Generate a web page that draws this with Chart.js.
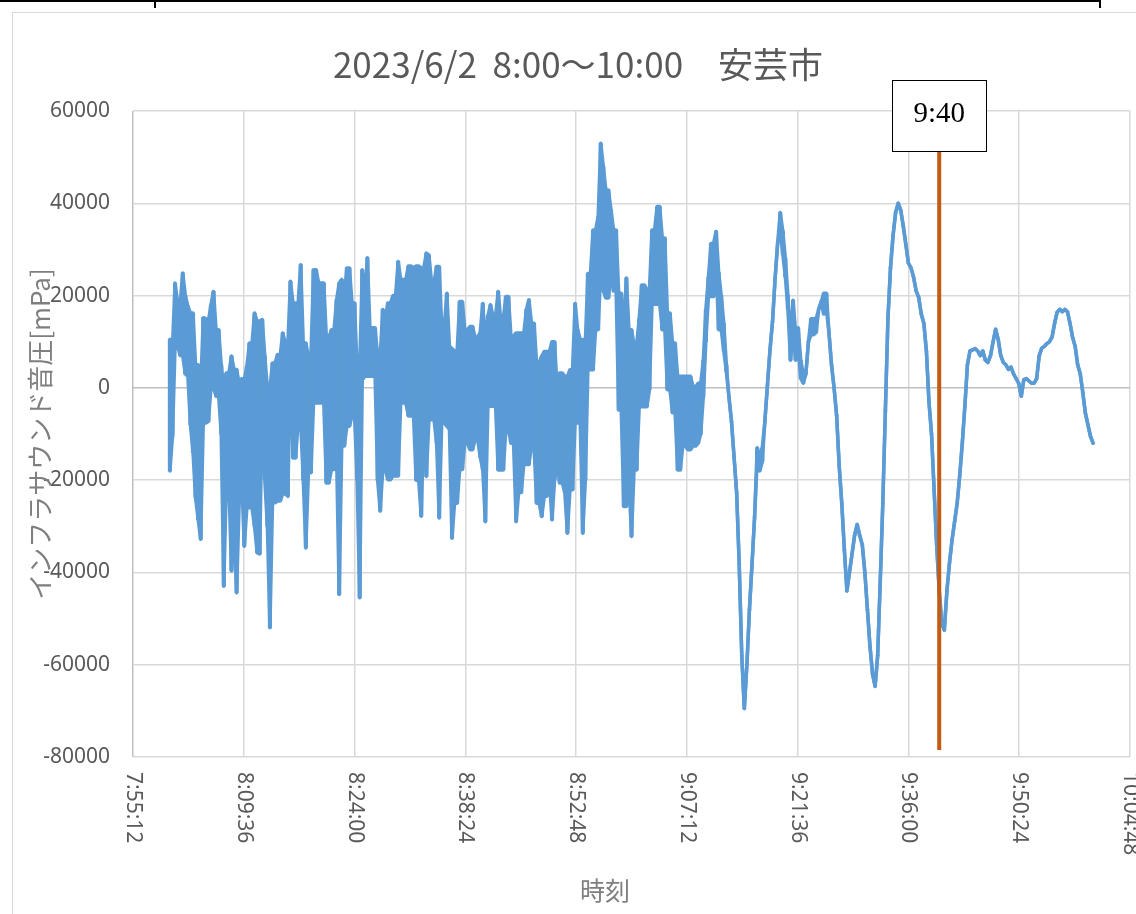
<!DOCTYPE html>
<html lang="ja">
<head>
<meta charset="utf-8">
<title>2023/6/2 8:00～10:00 安芸市</title>
<script src="https://cdn.jsdelivr.net/npm/chart.js@4.4.1/dist/chart.umd.min.js"></script>
<style>
  html, body { margin: 0; padding: 0; background: #ffffff; }
  #wrap { position: relative; width: 1136px; height: 914px; overflow: hidden; }
  canvas { display: block; }
</style>
</head>
<body>
<div id="wrap"><canvas id="chart" width="1136" height="914"></canvas></div>
<script>
// ---- chart texts ----
const chartTitle = '2023/6/2  8:00～10:00　安芸市';
const yAxisTitle = 'インフラサウンド音圧[mPa]';
const xAxisTitle = '時刻';

// ---- axis ticks ----
const xTickLabels = ['7:55:12', '8:09:36', '8:24:00', '8:38:24', '8:52:48',
                     '9:07:12', '9:21:36', '9:36:00', '9:50:24', '10:04:48'];
const yTickValues = [60000, 40000, 20000, 0, -20000, -40000, -60000, -80000];

// ---- marker ----
const markerLabel = '9:40';

// ---- recorded pressure [mPa], highest and lowest value in each 20 s slot from 8:00:00 ----
const sampleStart = '8:00:00';
const sampleStepSec = 20;
const pressureMax = [
  10500, 9000, 22700, 18400, 18400, 24900, 20000, 17700, 16200, 16200,
  5000, 5000, 0, 15200, 15000, 14500, 18000, 20900, 12600, 12600,
  5000, 0, 3200, 3200, 6900, 4000, 4000, 1000, 2000, 1800,
  4700, 9700, 9700, 16200, 14500, 14500, 14800, 6900, 0, 0,
  5400, 5400, 7200, 7000, 11900, 9700, 9700, 23100, 18400, 18400,
  18400, 26700, 9700, 9700, 6900, 6900, 25600, 25600, 22700, 22700,
  22700, 11000, 11000, 12600, 12600, 19100, 22700, 23500, 20000, 26000,
  26000, 18400, 18400, 4000, 4000, 25600, 20000, 28200, 13000, 13000,
  13000, 6900, 6900, 17000, 15000, 18400, 18400, 20000, 20000, 27400,
  23500, 23500, 23500, 26400, 26400, 26000, 26400, 26400, 26000, 26000,
  29200, 28800, 23000, 23000, 26300, 26300, 13300, 13300, 20500, 9000,
  8500, 8000, 8000, 18700, 18700, 12600, 12600, 13300, 13300, 11000,
  11000, 12000, 18300, 9700, 15600, 18000, 15600, 15600, 20900, 14800,
  14800, 19800, 19800, 11200, 11200, 11900, 11900, 11900, 11900, 17000,
  19100, 14000, 14000, 5400, 5400, 6900, 7900, 7900, 7900, 10000,
  10000, -400, 3200, 3200, 2500, 2500, 3900, 3900, 18300, 12600,
  10500, 10500, 10000, 24800, 24800, 34200, 34200, 37100, 53000, 48000,
  42900, 42900, 38600, 34200, 34200, 20500, 20500, 12600, 23800, 12600,
  12600, 9400, 9400, 15000, 22300, 22300, 21300, 21300, 34200, 34200,
  39300, 39300, 32500, 32500, 16200, 16200, 9700, 9700, 2500, 2500,
  2500, 2500, 2500, 2500, 300, 300, 1000, 1000, 6000, 17000,
  24000, 31300, 31300, 33900, 25000, 20000, 14000, 5000, -2000, -7300,
  -15000, -22700, -38200, -58000, -69500, -60000, -48000, -38200, -28000, -13000,
  -15000, -13000, -7300, 500, 8200, 14400, 23700, 31400, 38000, 34000,
  28000, 20000, 10000, 19000, 12000, 13000, 6000, 3000, 3000, 10000,
  15000, 15000, 15000, 17000, 18700, 20500, 20500, 12000, 5000, 0,
  -6000, -17000, -25000, -35000, -44000, -40000, -36000, -32000, -29600, -32000,
  -34000, -40000, -48000, -56000, -62000, -64700, -58000, -42000, -25000, -5000,
  15000, 26000, 33000, 38000, 40000, 38500, 35000, 31000, 27000, 26000,
  24000, 21000, 19600, 16000, 14000, 8000, -3000, -10000, -22000, -34000,
  -44000, -51000, -52500, -44000, -38000, -33000, -29000, -25000, -19000, -12000,
  -4000, 5000, 8000, 8200, 8500, 8000, 7000, 8000, 6000, 5500,
  7000, 10000, 12700, 10500, 7000, 5500, 5000, 4000, 4500, 3000,
  2000, 1000, -1800, 1800, 2000, 1500, 1000, 1000, 2000, 7000,
  8600, 9000, 9600, 10000, 11000, 14000, 16400, 17000, 16500, 17000,
  16500, 14000, 11000, 9000, 5000, 3000, -1000, -5500, -8000, -10500,
  -12000
];
const pressureMin = [
  -18000, -10500, 9000, 9000, 7000, 6900, 3000, 2500, -8000, -14000,
  -23800, -28500, -32800, -7600, -7600, -7300, 0, 0, -1800, -1800,
  -10000, -43000, -20600, -20600, -39700, -30000, -44400, -24900, -20000, -34300,
  -26000, -26000, -26000, -30000, -35700, -36000, -3500, -19900, -30000, -52000,
  -24900, -24900, -24500, -24500, -23000, -23000, -23500, 6900, -15200, -15200,
  -7600, -7600, -20000, -34700, -18400, -18400, -3300, -3300, -3300, -3300,
  -3300, -20600, -20600, -17700, -17700, -14800, -44800, -12600, -12600, -8300,
  -8300, -6100, -6100, -20000, -45500, 1800, 2500, 2500, 2500, 2500,
  2500, -20000, -26700, -17700, -17700, -19900, -19900, -19100, -19100, -19100,
  -3300, -3300, -3300, -6100, -6100, -6100, -20000, -20000, -27800, -7000,
  -19200, -6900, -6900, -6900, -12000, -28200, -7600, -7600, -8300, -9000,
  -32600, -25000, -25000, -17700, -17700, -11900, -11900, -13400, -13400, -11200,
  -11200, -15000, -17700, -29000, -4000, -4000, -4000, -4000, -17800, -17800,
  -17800, -9000, -9000, -12000, -12000, -29000, -22700, -22700, -16600, -16600,
  -16600, -12600, -12600, -25000, -25000, -27900, -23500, -23500, -20000, -28600,
  -20000, -16200, -20600, -20600, -22700, -31500, -22100, -22100, -7600, -7600,
  -7600, -31500, -20000, 3900, 3900, 3900, 12600, 12600, 25600, 21000,
  19500, 19500, 25600, 21000, 21000, -4800, -4800, -25700, -25700, -20000,
  -32200, -17800, -17800, -4100, -4100, -4100, -4100, -400, 18100, 18100,
  18100, 18100, 12600, 12600, -400, -400, -5400, -5400, -17800, -17800,
  -12600, -12600, -13400, -13400, -12600, -12600, -12000, -10000, -2000, 10000,
  19800, 19800, 19800, 25600, 12600, 12600, 8000, 3500, -2000, -7300,
  -15000, -22700, -38200, -58000, -69500, -60000, -48000, -38200, -28000, -16000,
  -18000, -16000, -7300, 500, 8200, 14400, 23700, 31400, 34000, 29000,
  24000, 17000, 6000, 12000, 6000, 9000, 2000, 1000, 3000, 10000,
  11500, 11500, 12000, 17000, 18700, 16000, 17000, 12000, 5000, 0,
  -6000, -17000, -25000, -35000, -44000, -40000, -36000, -32000, -29600, -32000,
  -34000, -40000, -48000, -56000, -62000, -64700, -58000, -42000, -25000, -5000,
  15000, 26000, 33000, 38000, 40000, 38500, 35000, 31000, 27000, 26000,
  24000, 21000, 19600, 16000, 14000, 8000, -3000, -10000, -22000, -34000,
  -44000, -51000, -52500, -44000, -38000, -33000, -29000, -25000, -19000, -12000,
  -4000, 5000, 8000, 8200, 8500, 8000, 7000, 8000, 6000, 5500,
  7000, 10000, 12700, 10500, 7000, 5500, 5000, 4000, 4500, 3000,
  2000, 1000, -1800, 1800, 2000, 1500, 1000, 1000, 2000, 7000,
  8600, 9000, 9600, 10000, 11000, 14000, 16400, 17000, 16500, 17000,
  16500, 14000, 11000, 9000, 5000, 3000, -1000, -5500, -8000, -10500,
  -12000
];

// "h:mm[:ss]" -> seconds of the day
function toSeconds(str) {
  const p = str.split(':').map(Number);
  return p[0] * 3600 + p[1] * 60 + (p[2] || 0);
}

const xTickSeconds = xTickLabels.map(toSeconds);
const startSec = toSeconds(sampleStart);
const slotTime = i => startSec + i * sampleStepSec;
const maxPoints = pressureMax.map((v, i) => ({ x: slotTime(i), y: v }));
const minPoints = pressureMin.map((v, i) => ({ x: slotTime(i), y: v }));
const rangePoints = pressureMax.map((v, i) => ({ x: slotTime(i), y: [pressureMin[i], v] }));
const markerSec = toSeconds(markerLabel);

const SERIES_COLOR = '#5b9bd5';
const LABEL_COLOR = '#595959';
const AXIS_TITLE_COLOR = '#7f7f7f';
const NUM_FONT = '21px "Noto Sans", "DejaVu Sans", sans-serif';
const JP_FONT = '"Noto Sans CJK JP", "Noto Sans", sans-serif';

// page frame, texts, rotated time labels and the 9:40 marker
const decorations = {
  id: 'decorations',
  beforeDraw(chart) {
    const c = chart.ctx;
    c.save();
    c.fillStyle = '#ffffff';
    c.fillRect(0, 0, chart.width, chart.height);
    // outer chart border
    c.strokeStyle = '#d9d9d9';
    c.lineWidth = 1;
    c.strokeRect(12.5, 12.5, chart.width + 20, chart.height + 20);
    // document rule along the top edge
    c.strokeStyle = '#000000';
    c.lineWidth = 2;
    c.beginPath();
    c.moveTo(0, 1); c.lineTo(1100, 1);
    c.moveTo(155, 0); c.lineTo(155, 8);
    c.moveTo(1100, 0); c.lineTo(1100, 8);
    c.stroke();
    c.restore();
  },
  afterDatasetsDraw(chart) {
    const c = chart.ctx;
    const xs = chart.scales.x, ys = chart.scales.y;
    const area = chart.chartArea;
    c.save();

    // marker line with its label box
    const mx = xs.getPixelForValue(markerSec);
    const boxW = 94, boxH = 71, boxTop = 80;
    c.strokeStyle = '#c55a11';
    c.lineWidth = 4;
    c.beginPath();
    c.moveTo(mx, boxTop + boxH);
    c.lineTo(mx, area.bottom - 7);
    c.stroke();
    c.fillStyle = '#ffffff';
    c.fillRect(mx - boxW / 2, boxTop, boxW, boxH);
    c.strokeStyle = '#000000';
    c.lineWidth = 1;
    c.strokeRect(Math.round(mx - boxW / 2) + 0.5, boxTop + 0.5, boxW, boxH);
    c.fillStyle = '#000000';
    c.font = '29px "Liberation Serif", "DejaVu Serif", serif';
    c.textAlign = 'center';
    c.textBaseline = 'middle';
    c.fillText(markerLabel, mx, boxTop + 34);

    // title
    c.fillStyle = LABEL_COLOR;
    c.font = '35px ' + JP_FONT;
    c.textAlign = 'center';
    c.textBaseline = 'alphabetic';
    c.fillText(chartTitle, 578, 78);

    // value labels
    c.font = NUM_FONT;
    c.textAlign = 'right';
    c.textBaseline = 'middle';
    yTickValues.forEach(v => {
      c.fillText(String(v), 110, ys.getPixelForValue(v));
    });

    // time labels, turned to read downward
    c.textAlign = 'left';
    xTickLabels.forEach((lab, i) => {
      const px = xs.getPixelForValue(xTickSeconds[i]);
      c.save();
      c.translate(px, area.bottom + 15);
      c.rotate(Math.PI / 2);
      c.fillText(lab, 0, 0);
      c.restore();
    });

    // axis titles
    c.fillStyle = AXIS_TITLE_COLOR;
    c.font = '25px ' + JP_FONT;
    c.textAlign = 'center';
    c.textBaseline = 'middle';
    c.fillText(xAxisTitle, 605, 890);
    c.font = '26px ' + JP_FONT;
    c.save();
    c.translate(40, 434);
    c.rotate(-Math.PI / 2);
    c.fillText(yAxisTitle, 0, 0);
    c.restore();

    c.restore();
  }
};

const lineStyle = {
  type: 'line',
  borderColor: SERIES_COLOR,
  borderWidth: 3.5,
  pointRadius: 0,
  tension: 0,
  fill: false,
  borderJoinStyle: 'round',
  borderCapStyle: 'round'
};

new Chart(document.getElementById('chart'), {
  type: 'line',
  data: {
    datasets: [
      // spread inside each 20 s slot
      {
        type: 'bar',
        label: 'range',
        data: rangePoints,
        backgroundColor: SERIES_COLOR,
        borderWidth: 0,
        barThickness: 3.5,
        grouped: false
      },
      Object.assign({ label: 'max', data: maxPoints }, lineStyle),
      Object.assign({ label: 'min', data: minPoints }, lineStyle)
    ]
  },
  options: {
    responsive: false,
    animation: false,
    devicePixelRatio: 1,
    layout: { padding: { left: 133, top: 111, right: 6, bottom: 157 } },
    plugins: {
      legend: { display: false },
      tooltip: { enabled: false },
      title: { display: false }
    },
    scales: {
      x: {
        type: 'linear',
        offset: false,
        min: xTickSeconds[0],
        max: xTickSeconds[xTickSeconds.length - 1],
        afterBuildTicks: s => { s.ticks = xTickSeconds.map(v => ({ value: v })); },
        ticks: { display: false },
        border: { display: false },
        grid: {
          offset: false,
          drawTicks: false,
          lineWidth: 1.5,
          color: ctx => (ctx.tick && ctx.tick.value === xTickSeconds[0]) ? '#bfbfbf' : '#d9d9d9'
        }
      },
      y: {
        type: 'linear',
        min: yTickValues[yTickValues.length - 1],
        max: yTickValues[0],
        afterBuildTicks: s => { s.ticks = yTickValues.slice().reverse().map(v => ({ value: v })); },
        ticks: { display: false },
        border: { display: false },
        grid: {
          drawTicks: false,
          lineWidth: 1.5,
          color: ctx => (ctx.tick && ctx.tick.value === 0) ? '#bfbfbf' : '#d9d9d9'
        }
      }
    }
  },
  plugins: [decorations]
});
</script>
</body>
</html>
